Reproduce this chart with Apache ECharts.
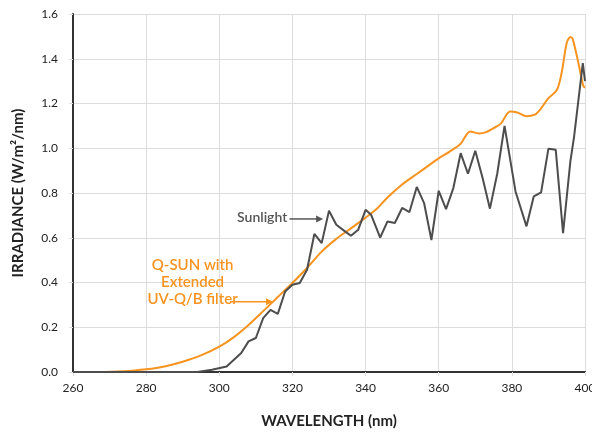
<!DOCTYPE html>
<html>
<head>
<meta charset="utf-8">
<script src="https://cdn.jsdelivr.net/npm/echarts@6/dist/echarts.min.js"></script>
<style>html,body{margin:0;padding:0;background:#fff}#c{width:592px;height:435px}</style>
</head>
<body>
<div id="c"></div>
<script>
var xTicks = [260, 280, 300, 320, 340, 360, 380, 400];
var yTicks = [0.0, 0.2, 0.4, 0.6, 0.8, 1.0, 1.2, 1.4, 1.6];

var sunlightWl = [260, 294, 298, 302, 306, 308, 310, 312, 314, 316, 318, 320, 322, 324, 326, 328, 330, 332, 334, 336, 338, 340, 341.5, 344, 346, 348, 350, 352, 354, 356, 358, 360, 362, 364, 366, 368, 370, 372, 374, 376, 378, 381, 384, 386, 388, 390, 392, 394, 396, 397, 399.4, 400];
var sunlightVal = [0, 0, 0.01, 0.025, 0.085, 0.137, 0.152, 0.241, 0.278, 0.26, 0.36, 0.39, 0.398, 0.457, 0.617, 0.576, 0.721, 0.658, 0.633, 0.609, 0.636, 0.725, 0.703, 0.601, 0.673, 0.666, 0.733, 0.715, 0.827, 0.755, 0.59, 0.81, 0.728, 0.822, 0.978, 0.886, 0.989, 0.867, 0.73, 0.886, 1.10, 0.807, 0.651, 0.785, 0.803, 0.998, 0.993, 0.621, 0.941, 1.05, 1.38, 1.30];

var qsunWl = [260, 268, 272, 276, 280, 285, 290, 295, 300, 304, 308, 312, 316, 320, 324, 328, 332, 336, 340, 343, 346, 350, 354, 357, 360, 363, 366, 368.6, 371, 373, 375, 377, 379.5, 381.5, 384, 386.3, 387.7, 390, 392.3, 393.6, 395, 396, 396.6, 398.2, 399.5, 400];
var qsunVal = [0, 0, 0.002, 0.006, 0.012, 0.025, 0.046, 0.074, 0.113, 0.156, 0.21, 0.272, 0.335, 0.398, 0.465, 0.538, 0.595, 0.642, 0.69, 0.728, 0.78, 0.838, 0.885, 0.92, 0.955, 0.985, 1.02, 1.075, 1.066, 1.072, 1.09, 1.11, 1.164, 1.16, 1.143, 1.15, 1.172, 1.224, 1.26, 1.336, 1.47, 1.497, 1.49, 1.381, 1.28, 1.27];

function pairs(xs, ys) { return xs.map(function (x, i) { return [x, ys[i]]; }); }

var FONT = 'Lato';
var chart = echarts.init(document.getElementById('c'), null, {renderer: 'canvas'});
chart.setOption({
  animation: false,
  backgroundColor: '#fff',
  grid: {left: 73, right: 7, top: 14, bottom: 63, containLabel: false, outerBoundsMode: 'none'},
  xAxis: {
    type: 'value', min: xTicks[0], max: xTicks[xTicks.length - 1], interval: 20,
    name: 'WAVELENGTH (nm)', nameLocation: 'middle', nameGap: 42,
    nameTextStyle: {fontFamily: FONT, fontWeight: 'bold', fontSize: 15, color: '#222'},
    axisLine: {show: true, onZero: false, lineStyle: {color: '#333', width: 2}},
    axisTick: {show: true, length: 4, lineStyle: {color: '#ddd'}},
    axisLabel: {fontFamily: FONT, fontSize: 12, color: '#222', margin: 10},
    splitLine: {show: true, lineStyle: {color: '#dcdcdc', width: 1}}
  },
  yAxis: {
    type: 'value', min: 0, max: yTicks[yTicks.length - 1], interval: 0.2,
    name: 'IRRADIANCE (W/m²/nm)', nameLocation: 'middle', nameGap: 47,
    nameTextStyle: {fontFamily: FONT, fontWeight: 'bold', fontSize: 15, color: '#222'},
    axisLine: {show: true, lineStyle: {color: '#333', width: 2}},
    axisTick: {show: true, length: 4, lineStyle: {color: '#ddd'}},
    axisLabel: {fontFamily: FONT, fontSize: 12, color: '#222', margin: 15,
      formatter: function (v) { return v.toFixed(1); }},
    splitLine: {show: true, lineStyle: {color: '#dcdcdc', width: 1}}
  },
  series: [
    {
      name: 'Q-SUN', type: 'line', data: pairs(qsunWl, qsunVal), smooth: 0.3,
      symbol: 'none', lineStyle: {color: '#f7931e', width: 2}, z: 3
    },
    {
      name: 'Sunlight', type: 'line', data: pairs(sunlightWl, sunlightVal), smooth: false,
      symbol: 'none', lineStyle: {color: '#4d4d4d', width: 2}, z: 4
    }
  ]
});

function P(x, y) { return chart.convertToPixel({gridIndex: 0}, [x, y]); }
function arrow(x1, x2, y, color) {
  return [
    {type: 'line', shape: {x1: x1, y1: y, x2: x2 - 5, y2: y}, style: {stroke: color, lineWidth: 1.5}, z: 10},
    {type: 'polygon', shape: {points: [[x2, y], [x2 - 7, y - 3.5], [x2 - 7, y + 3.5]]}, style: {fill: color}, z: 10}
  ];
}
var sT = P(318.6, 0.69);
var sA1 = P(319.2, 0.684), sA2 = P(328.4, 0.684);
var qT = P(292.7, 0.4);
var qA1 = P(302.9, 0.314), qA2 = P(314.7, 0.314);
var els = [
  {type: 'text', x: sT[0], y: sT[1], style: {text: 'Sunlight', fill: '#555', font: '600 14px ' + FONT, textAlign: 'right', textVerticalAlign: 'middle'}, z: 10},
  {type: 'text', x: qT[0], y: qT[1], style: {text: 'Q-SUN with\nExtended\nUV-Q/B filter', fill: '#f7931e', font: '600 15px ' + FONT, textAlign: 'center', textVerticalAlign: 'middle', lineHeight: 17}, z: 10}
];
els = els.concat(arrow(sA1[0], sA2[0], sA1[1], '#555'));
els = els.concat(arrow(qA1[0], qA2[0], qA1[1], '#f7931e'));
chart.setOption({graphic: {elements: els}});
</script>
</body>
</html>
